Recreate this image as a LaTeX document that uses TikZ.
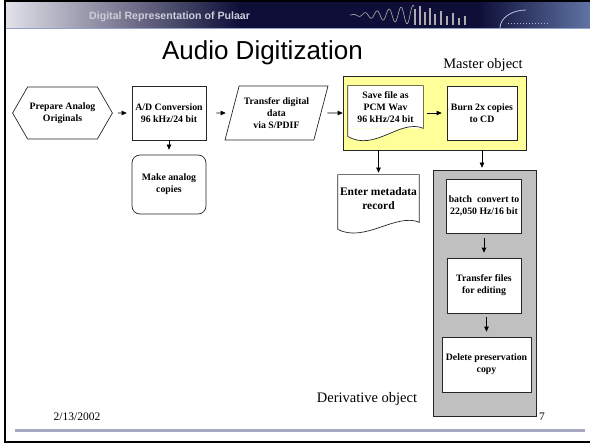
\documentclass[tikz,border=0pt]{standalone}
\usepackage{fontspec}
\setmainfont{Liberation Serif}
\newfontfamily\slidesans{Liberation Sans}
\usetikzlibrary{arrows.meta,shapes.geometric,shapes.symbols}
\definecolor{bannernavy}{RGB}{14,14,56}
\definecolor{bannerlight}{RGB}{226,226,234}
\definecolor{bannersteel}{RGB}{96,116,164}
\definecolor{bannertext}{RGB}{205,205,220}
\definecolor{bannerrule}{RGB}{150,160,200}
\definecolor{masteryellow}{RGB}{255,255,153}
\definecolor{derivgrey}{RGB}{192,192,192}
\definecolor{footline}{RGB}{168,168,194}
\tikzset{
  slidearrow/.style={-{Triangle[length=5pt,width=4.5pt]}, line width=0.7pt,
    draw=black},
  slideline/.style={draw=black!85, line width=0.7pt},
  slidestep/.style={slideline, fill=white, align=center, inner sep=2pt,
    font=\fontsize{9.8}{12}\selectfont\bfseries},
  slidestart/.style={slidestep, signal, signal to=west and east,
    signal pointer angle=120},
  slideio/.style={slidestep, trapezium, trapezium left angle=68,
    trapezium right angle=112, trapezium stretches body},
  slideround/.style={slidestep, rounded corners=8pt},
  slidedoc/.style={slidestep, draw=none},
  slidegroup/.style={slideline, minimum width=0pt},
  slidelabel/.style={font=\fontsize{14.5}{17}\selectfont}
}

\begin{document}
\begin{tikzpicture}[x=1pt,y=-1pt]
  \useasboundingbox (0,0) rectangle (590,444);

  % banner across the top
  \shade[left color=bannerlight, right color=bannernavy] (5,2) rectangle (240,28);
  \fill[bannernavy] (240,2) rectangle (590,28);
  \shade[left color=bannernavy, right color=bannersteel] (478,2) rectangle (590,28);
  \draw[gray!75, line width=0.7pt] plot[domain=350:414, samples=90]
    (\x, {15 - (\x-350)/6.5*sin((\x-350)*30)});
  \foreach \bx/\bh in {414/16, 419/19, 424/13, 429/17, 434/11, 440/14, 446/9,
      452/12, 458/7, 464/9}
    \fill[gray!65] (\bx,25) rectangle ++(2.4,-\bh);
  \draw[bannerlight!70!bannersteel, line width=0.8pt] (500,28) arc (180:270:26 and 18);
  \draw[bannerlight!60!bannersteel, dotted, line width=1pt] (508,24) -- (548,24);
  \draw[bannerrule, line width=1pt] (5,29) -- (590,29);
  \node[font=\slidesans\bfseries\fontsize{10.6}{12}\selectfont, text=bannertext,
    anchor=base west, inner sep=0pt] (banner) at (89,20)
    {Digital Representation of Pulaar};

  % slide frame and footer rule
  \draw[line width=2pt] (5,1) -- (590,1);
  \draw[line width=2.5pt] (5,0) -- (5,442) -- (590,442);
  \fill[footline] (15,429) rectangle (585,432);

  \node[font=\slidesans\fontsize{26}{30}\selectfont, anchor=base,
    inner sep=0pt] (title) at (262.5,60) {Audio Digitization};

  % groups
  \node[slidegroup, fill=masteryellow, minimum width=183pt,
    minimum height=74pt] (master) at (434.5,113) {};
  \node[slidegroup, fill=derivgrey, minimum width=103pt,
    minimum height=246pt] (deriv) at (484.5,293) {};
  \node[slidelabel] (masterlabel) at (483,65) {Master object};
  \node[slidelabel] (derivlabel) at (367,399) {Derivative object};

  % steps
  \node[slidestart, minimum width=89pt, minimum height=52pt] (prep)
    at (62.5,113) {Prepare Analog\\Originals};
  \node[slidestep, minimum width=74pt, minimum height=54pt] (adconv)
    at (169,113) {A/D Conversion\\96 kHz/24 bit};
  \node[slideround, minimum width=74pt, minimum height=59pt] (analog)
    at (169,184.5) {Make analog\\copies};
  \node[slideio, minimum width=103pt, minimum height=54pt] (transfer)
    at (276.5,113) {Transfer digital\\data\\via S/PDIF};
  \node[slidedoc, minimum width=75pt, minimum height=42pt] (save)
    at (385.5,107) {Save file as\\PCM Wav\\96 kHz/24 bit};
  \fill[white] (save.south east)
    .. controls ([xshift=-23pt,yshift=10pt]save.south east)
    and ([xshift=27pt,yshift=-24pt]save.south west)
    .. ([yshift=-8pt]save.south west) -- (save.south west) -- cycle;
  \draw[slideline] ([yshift=-8pt]save.south west) -- (save.north west)
    -- (save.north east) -- (save.south east)
    .. controls ([xshift=-23pt,yshift=10pt]save.south east)
    and ([xshift=27pt,yshift=-24pt]save.south west)
    .. ([yshift=-8pt]save.south west);
  \node[slidestep, minimum width=70pt, minimum height=54pt] (burn)
    at (482,113) {Burn 2x copies\\to CD};
  \node[slidedoc, minimum width=79pt, minimum height=47pt,
    font=\fontsize{11.5}{13.5}\selectfont\bfseries] (meta)
    at (378.5,198.5) {Enter metadata\\record};
  \fill[white] (meta.south east)
    .. controls ([xshift=-23pt,yshift=10pt]meta.south east)
    and ([xshift=27pt,yshift=-21pt]meta.south west)
    .. ([yshift=-7pt]meta.south west) -- (meta.south west) -- cycle;
  \draw[slideline] ([yshift=-7pt]meta.south west) -- (meta.north west)
    -- (meta.north east) -- (meta.south east)
    .. controls ([xshift=-23pt,yshift=10pt]meta.south east)
    and ([xshift=27pt,yshift=-21pt]meta.south west)
    .. ([yshift=-7pt]meta.south west);
  \node[slidestep, minimum width=74pt, minimum height=54pt] (batch)
    at (484,206) {batch~ convert to\\22,050 Hz/16 bit};
  \node[slidestep, minimum width=74pt, minimum height=55pt] (edit)
    at (484,285.5) {Transfer files\\for editing};
  \node[slidestep, minimum width=89pt, minimum height=55pt] (delete)
    at (486.5,364.5) {Delete preservation\\copy};

  \node[font=\fontsize{11.5}{13}\selectfont] (date) at (77,417) {2/13/2002};
  \node[font=\fontsize{11.5}{13}\selectfont] (slidenum) at (542,417) {7};

  \draw[slidearrow, shorten <=5pt, shorten >=5pt] (prep) -- (adconv);
  \draw[slidearrow, shorten <=10pt, shorten >=6pt] (adconv) -- (transfer);
  \draw[slidearrow, shorten <=6pt] (transfer) -- (master);
  \draw[slidearrow, shorten <=4pt, shorten >=5pt] (save.east |- burn) -- (burn);
  \draw[slidearrow, shorten >=5pt] (adconv) -- (analog);
  \draw[slidearrow, shorten >=2pt] (master.south -| meta) -- (meta);
  \draw[slidearrow, shorten >=2pt] (master.south -| burn) -- (deriv.north -| burn);
  \draw[slidearrow, shorten <=5pt, shorten >=5pt] (batch) -- (edit);
  \draw[slidearrow, shorten <=4pt, shorten >=5pt] (delete.north |- edit.south)
    -- (delete);
\end{tikzpicture}
\end{document}
